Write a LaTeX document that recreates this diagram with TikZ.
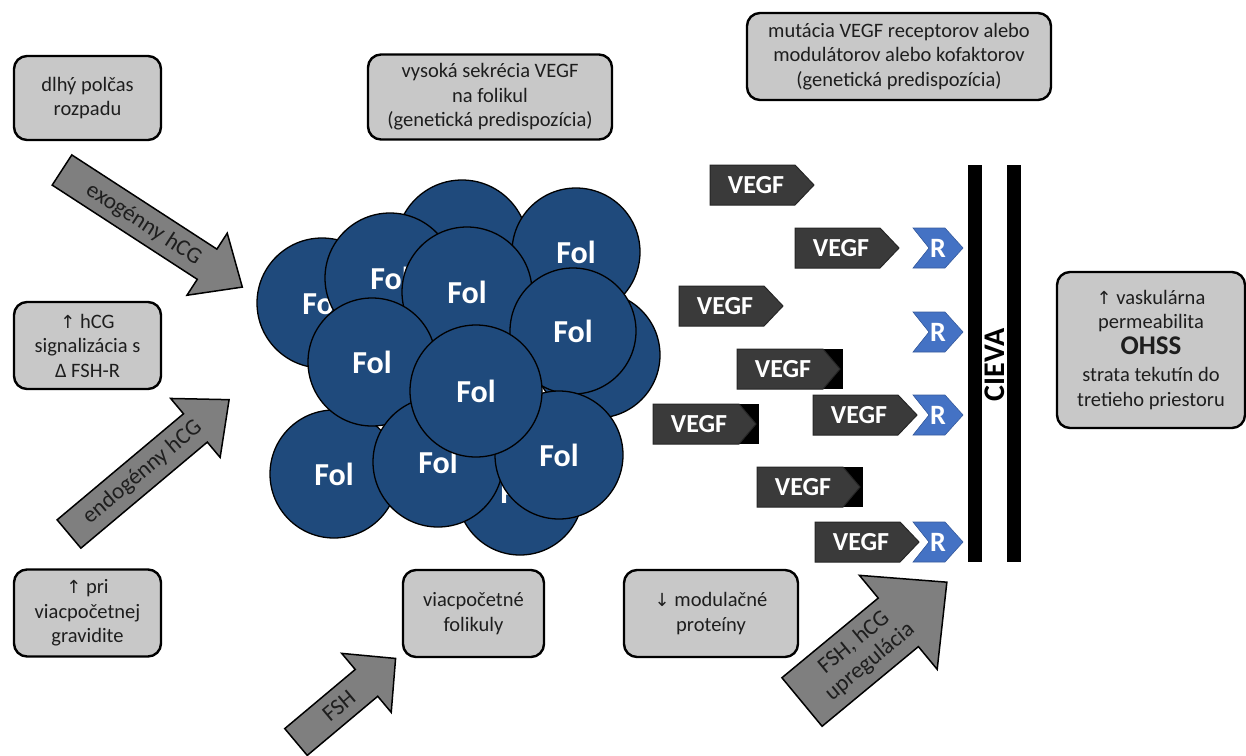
\documentclass[tikz,border=0pt]{standalone}
\usepackage{fontspec}
\setmainfont{Carlito}
\newfontfamily\symf{DejaVu Sans}
\definecolor{boxgray}{HTML}{C8C8C8}
\definecolor{arrgray}{HTML}{7F7F7F}
\definecolor{folblue}{HTML}{1F4A7C}
\definecolor{vegfgray}{HTML}{3A3A3A}
\definecolor{rblue}{HTML}{4472C4}
\definecolor{txt}{HTML}{1E1E1E}
\newcommand\uparr{{\symf\fontsize{18}{20}\selectfont ↑}}
\newcommand\downarr{{\symf\fontsize{18}{20}\selectfont ↓}}
\tikzset{
 infobox/.style={draw=black, line width=2.4pt, fill=boxgray, rounded corners=13pt, align=center, text=txt, font=\fontsize{20.5}{24.5}\selectfont, inner sep=0pt},
 blockarrow/.style={draw=black, line width=1.5pt, fill=arrgray, line join=miter},
 arrtext/.style={text=txt, font=\fontsize{23}{26}\selectfont, align=center, inner sep=0pt},
 fol/.style={circle, draw=black, line width=1.3pt, fill=folblue, minimum size=#1, inner sep=0pt, text=white, font=\fontsize{32}{36}\selectfont\bfseries},
 fol/.default=130pt,
 vegfshape/.style={draw=black!85, line width=1pt, fill=vegfgray},
 vegftext/.style={text=white, font=\fontsize{26}{30}\selectfont\bfseries, inner sep=0pt},
 rshape/.style={fill=rblue, draw=rblue!80!black, line width=0.6pt},
 rtext/.style={text=white, font=\fontsize{28}{30}\selectfont\bfseries, inner sep=0pt},
 wallbar/.style={fill=black},
}
\newcommand\vegf[3]{%
 \draw[vegfshape] (#1,#2) -- ++(85,0) -- ++(19,20) -- ++(-19,20) -- ++(-85,0) -- cycle;
 \node[vegftext] (#3) at ({#1+46},{#2+20}) {VEGF};}
\newcommand\vegfb[3]{%
 \fill[black] (#1,#2) rectangle ++(106,40);
 \draw[vegfshape] (#1,#2) -- ++(86,0) -- ++(17,20) -- ++(-17,20) -- ++(-86,0) -- cycle;
 \node[vegftext] (#3) at ({#1+46},{#2+20}) {VEGF};}
\newcommand\rchev[3]{%
 \draw[rshape] (#1,#2) -- ++(32,0) -- ++(18,20) -- ++(-18,20) -- ++(-32,0) -- ++(16,-20) -- cycle;
 \node[rtext] (#3) at ({#1+25},{#2+20}) {R};}
\begin{document}
\begin{tikzpicture}[x=1pt,y=-1pt]
\fill[white] (0,0) rectangle (1246,755);
\useasboundingbox (0,0) rectangle (1246,755);

% info boxes
\node[infobox, minimum width=147pt, minimum height=84pt] (b1) at (87.5,98) {dlhý polčas\\rozpadu};
\node[infobox, minimum width=147pt, minimum height=87pt] (b2) at (87.5,345.5) {\uparr\ hCG\\signalizácia s\\Δ FSH-R};
\node[infobox, minimum width=147pt, minimum height=87pt] (b3) at (87.5,613) {\uparr\ pri\\viacpočetnej\\gravidite};
\node[infobox, minimum width=244pt, minimum height=85pt] (b4) at (490,97) {vysoká sekrécia VEGF\\na folikul\\(genetická predispozícia)};
\node[infobox, minimum width=304pt, minimum height=87pt] (b5) at (899,56.5) {mutácia VEGF receptorov alebo\\modulátorov alebo kofaktorov\\(genetická predispozícia)};
\node[infobox, minimum width=141pt, minimum height=87pt] (b6) at (473.5,613.5) {viacpočetné\\folikuly};
\node[infobox, minimum width=174pt, minimum height=87pt] (b7) at (711,613.5) {\downarr\ modulačné\\proteíny};
\node[infobox, minimum width=188pt, minimum height=156pt] (b8) at (1151,350) {\uparr\ vaskulárna\\permeabilita\\[1pt]{\fontsize{27}{31}\selectfont\bfseries OHSS}\\[3pt]strata tekutín do\\tretieho priestoru};

% block arrows
\begin{scope}[shift={(62,170)}, rotate=-33]
 \draw[blockarrow] (0,-18) -- (173,-18) -- (173,-37) -- (215,0) -- (173,37) -- (173,18) -- (0,18) -- cycle;
 \node[arrtext, rotate=-33] (exo) at (98,1) {exogénny hCG};
\end{scope}
\begin{scope}[shift={(69,534)}, rotate=40]
 \draw[blockarrow] (0,-18.5) -- (165,-18.5) -- (165,-38.5) -- (209,0) -- (165,38.5) -- (165,18.5) -- (0,18.5) -- cycle;
 \node[arrtext, rotate=40] (endo) at (96,0) {endogénny hCG};
\end{scope}
\begin{scope}[shift={(296,742)}, rotate=40]
 \draw[blockarrow] (0,-17.5) -- (92,-17.5) -- (92,-38.5) -- (130,0) -- (92,38.5) -- (92,17.5) -- (0,17.5) -- cycle;
 \node[arrtext, rotate=40] (fsh) at (56,0) {FSH};
\end{scope}
\begin{scope}[shift={(802,702)}, rotate=39.6]
 \draw[blockarrow] (0,-31.5) -- (125,-31.5) -- (125,-61) -- (188,0) -- (125,61) -- (125,31.5) -- (0,31.5) -- cycle;
 \node[arrtext, rotate=39.6, font=\fontsize{23}{25}\selectfont] (upreg) at (78,0) {FSH, hCG\\upregulácia};
\end{scope}

% follicles
\node[fol=126pt] (c10) at (520,492) {Fol};
\node[fol=126pt] (c3) at (597,355) {Fol};
\node[fol=132pt] (c1) at (462,246) {Fol};
\node[fol=130pt] (c4) at (322,303) {Fol};
\node[fol=128pt] (c9) at (334,474) {Fol};
\node[fol=128pt] (c2) at (576,252) {Fol};
\node[fol=130pt] (c5) at (390,278) {Fol};
\node[fol=130pt] (c6) at (467,292) {Fol};
\node[fol=126pt] (c7) at (573,331) {Fol};
\node[fol=128pt] (c8) at (372,362) {Fol};
\node[fol=130pt] (c11) at (438,462) {Fol};
\node[fol=128pt] (c12) at (559,455) {Fol};
\node[fol=132pt] (c13) at (476,391) {Fol};

% VEGF
\vegf{710}{165}{v1}
\vegf{795}{228}{v2}
\vegf{679}{286}{v3}
\vegfb{737}{349}{v4}
\vegf{813}{395}{v5}
\vegfb{653}{404}{v6}
\vegfb{757}{467}{v7}
\vegf{815}{522}{v8}

% receptors
\rchev{913}{228}{r1}
\rchev{913}{312}{r2}
\rchev{913}{395}{r3}
\rchev{913}{522}{r4}

% vessel
\fill[wallbar] (968,165) rectangle (982,562);
\fill[wallbar] (1007,165) rectangle (1021,562);
\node[font=\fontsize{30}{32}\selectfont\bfseries, rotate=90, inner sep=0pt] (cieva) at (995,365) {CIEVA};
\end{tikzpicture}
\end{document}
